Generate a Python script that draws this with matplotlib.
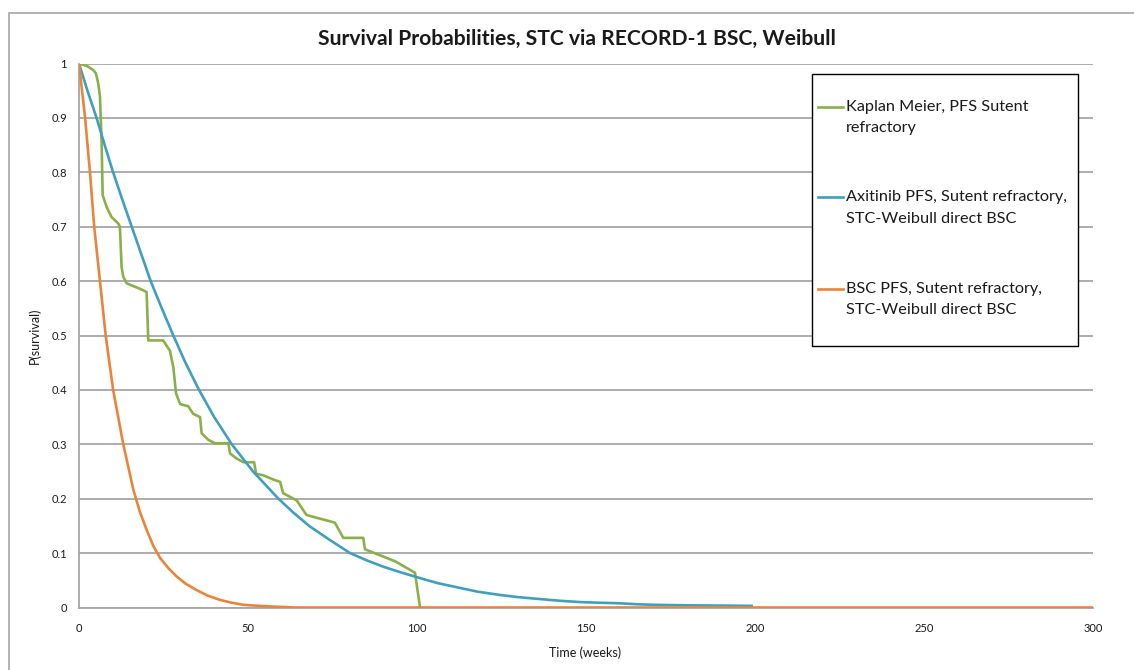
import matplotlib
matplotlib.use('Agg')
import matplotlib.pyplot as plt
from matplotlib.patches import Rectangle
from matplotlib.lines import Line2D

plt.rcParams['font.family'] = ['Lato', 'DejaVu Sans']

W, H = 1134, 670

# Kaplan Meier PFS, Sutent refractory (weeks, probability)
km_t = [0, 2.5, 4.2, 5.0, 5.7, 6.2, 6.7, 7.0, 8.2, 9.6, 11.6, 12.1, 12.6, 13.1,
        14.1, 15.6, 18.0, 20.0, 20.5, 24.9, 26.9, 27.9, 28.7, 29.9, 32.3, 33.8,
        35.8, 36.3, 38.3, 40.2, 44.2, 44.7, 46.6, 48.6, 51.8, 52.4, 54.5, 58.0,
        59.5, 60.4, 64.4, 67.3, 75.7, 78.2, 84.1, 84.6, 93.5, 99.4, 100.9]
km_s = [1.0, 0.995, 0.988, 0.982, 0.963, 0.939, 0.853, 0.758, 0.736, 0.718,
        0.706, 0.700, 0.626, 0.608, 0.596, 0.592, 0.586, 0.580, 0.491, 0.491,
        0.472, 0.442, 0.394, 0.374, 0.370, 0.356, 0.350, 0.320, 0.308, 0.302,
        0.302, 0.283, 0.274, 0.267, 0.267, 0.246, 0.243, 0.234, 0.231, 0.210,
        0.197, 0.170, 0.156, 0.128, 0.128, 0.107, 0.085, 0.064, 0.0]

# Axitinib PFS, STC-Weibull
axi_t = [0, 2.5, 5.2, 7.6, 10.1, 12.8, 15.6, 18.4, 21.2, 24.5, 27.9, 31.5,
         35.5, 40.0, 45.2, 51.5, 59.0, 63.5, 68.3, 74.0, 80.2, 85.0, 90.0,
         95.0, 100.9, 106.0, 112.7, 118.0, 124.6, 130.0, 136.4, 142.0, 148.2,
         154.0, 160.1, 165.0, 169.9, 179.8, 190.0, 199.0]
axi_s = [1.0, 0.95, 0.9, 0.85, 0.8, 0.75, 0.7, 0.65, 0.6, 0.55, 0.5, 0.45,
         0.4, 0.35, 0.3, 0.25, 0.2, 0.174, 0.149, 0.125, 0.1, 0.087, 0.075,
         0.065, 0.054, 0.045, 0.036, 0.029, 0.023, 0.019, 0.0155, 0.0125,
         0.010, 0.0088, 0.0077, 0.006, 0.005, 0.004, 0.0035, 0.003]

# BSC PFS, STC-Weibull
bsc_t = [0, 1.8, 3.25, 4.5, 6.2, 7.9, 10.1, 13.1, 16.1, 18.0, 20.0, 22.0,
         24.0, 26.5, 28.9, 31.5, 34.8, 38.0, 41.7, 45.0, 48.6, 52.0, 56.5,
         64.0, 300.0]
bsc_s = [1.0, 0.9, 0.8, 0.7, 0.6, 0.5, 0.4, 0.3, 0.216, 0.176, 0.143, 0.113,
         0.091, 0.072, 0.057, 0.044, 0.032, 0.022, 0.014, 0.009, 0.005,
         0.0035, 0.002, 0.0, 0.0]

labels = [["Kaplan Meier, PFS Sutent", "refractory"],
          ["Axitinib PFS, Sutent refractory,", "STC-Weibull direct BSC"],
          ["BSC PFS, Sutent refractory,", "STC-Weibull direct BSC"]]
colors = ['#8AB04A', '#3F9FBF', '#E8853A']

x_ticks = [0, 50, 100, 150, 200, 250, 300]
y_ticks = [0, 0.1, 0.2, 0.3, 0.4, 0.5, 0.6, 0.7, 0.8, 0.9, 1]
y_ticklabels = ['0', '0.1', '0.2', '0.3', '0.4', '0.5', '0.6', '0.7', '0.8', '0.9', '1']


def fx(px):
    return px / W


def fy(py):
    return 1 - py / H


fig = plt.figure(figsize=(W / 100, H / 100), dpi=100)
ax = fig.add_axes([fx(79), fy(607.5), (1093 - 79) / W, (607.5 - 63.5) / H])

grid_c = '#A6A6A6'
for (t, s), c in zip([(km_t, km_s), (axi_t, axi_s), (bsc_t, bsc_s)], colors):
    ax.plot(t, s, color=c, lw=1.9, solid_joinstyle='round', zorder=3)

ax.set_xlim(0, 300)
ax.set_ylim(0, 1)
ax.set_xticks(x_ticks)
ax.set_yticks(y_ticks)
ax.set_yticklabels(y_ticklabels)
ax.yaxis.grid(True, color=grid_c, lw=1.3)
ax.set_axisbelow(True)
ax.tick_params(length=0, labelsize=8, labelcolor='#1a1a1a')
ax.tick_params(axis='y', pad=8.6)
ax.tick_params(axis='x', pad=11.5)
for side in ['top', 'right']:
    ax.spines[side].set_visible(False)
for side in ['left', 'bottom']:
    ax.spines[side].set_color(grid_c)
    ax.spines[side].set_linewidth(1.3)

fig.text(fx(577), fy(39), "Survival Probabilities, STC via RECORD-1 BSC, Weibull",
         fontsize=15.2, weight='bold', ha='center', va='center', color='#1a1a1a')
fig.text(fx(585), fy(653), "Time (weeks)", fontsize=9, ha='center', va='center',
         color='#1a1a1a')
fig.text(fx(35), fy(336), "P(survival)", fontsize=9, rotation=90,
         ha='center', va='center', color='#1a1a1a')

# outer chart frame
fig.add_artist(Rectangle((fx(8.5), -0.1), 1.2, fy(12.5) + 0.1,
                         transform=fig.transFigure, fill=False,
                         ec=grid_c, lw=1.2, zorder=1))

# legend box drawn by hand, handles level with the first text line
fig.add_artist(Rectangle((fx(812.5), fy(345.5)), (1078 - 812.5) / W, (345.5 - 74) / H,
                         transform=fig.transFigure, fc='white', ec='black',
                         lw=1.0, zorder=5))
entry_y = [106.7, 197, 289]
for lines, c, y0 in zip(labels, colors, entry_y):
    fig.add_artist(Line2D([fx(818), fx(843)], [fy(y0), fy(y0)],
                          transform=fig.transFigure, color=c, lw=1.9, zorder=6))
    for i, line in enumerate(lines):
        fig.text(fx(846), fy(y0 + i * 21.5), line, fontsize=11.7,
                 ha='left', va='center', color='#1a1a1a', zorder=6)

fig.savefig('out.png', dpi=100)
